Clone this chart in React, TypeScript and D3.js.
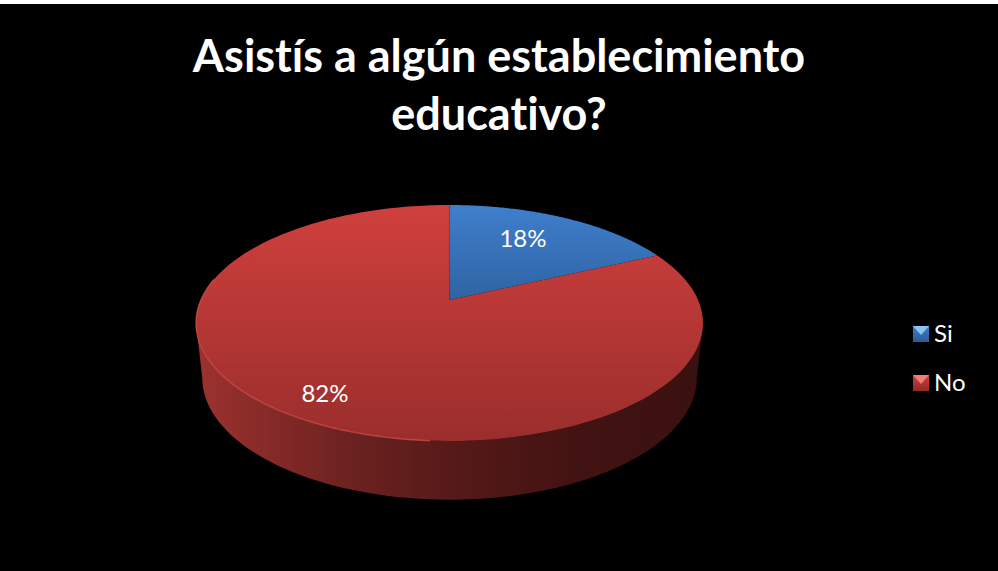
import React from "react";
import * as d3 from "d3";

const categories: string[] = ["Si", "No"];
const values: number[] = [18, 82];
const valueLabels: string[] = ["18%", "82%"];
const titleLines: string[] = ["Asistís a algún establecimiento", "educativo?"];

const width = 998;
const height = 571;
const font = "Lato, 'Open Sans', sans-serif";

// perspective of the pie: k shifts the apex above the middle of the ellipse
const k = -0.195;
const topDisc = { cx: 449.5, cy: 300, rx: 248.6, ry: 113.5 };
const baseDisc = { cx: 449.5, cy: 354, rx: 242.5, ry: 117.3 };

type Disc = typeof topDisc;

const project = (disc: Disc, angle: number): [number, number] => {
  const ux = Math.sin(angle);
  const uy = -Math.cos(angle);
  const w = 1 + k * uy;
  return [disc.cx + (disc.rx * ux) / w, disc.cy + (disc.ry * uy) / w];
};

const line = d3.line<[number, number]>();

const rimPoints = (disc: Disc, a0: number, a1: number): [number, number][] =>
  d3.range(0, 121).map((i) => project(disc, a0 + ((a1 - a0) * i) / 120));

const slicePath = (a0: number, a1: number): string =>
  line([[topDisc.cx, topDisc.cy], ...rimPoints(topDisc, a0, a1)]) + "Z";

// the wall runs between the widest points of the discs, round the front
const wallStart = Math.PI * 0.563;
const wallEnd = Math.PI * 1.437;
const wallPath: string =
  line([...rimPoints(topDisc, wallStart, wallEnd), ...rimPoints(baseDisc, wallStart, wallEnd).reverse()]) + "Z";

const App = (): React.JSX.Element => {
  const arcs = d3.pie<number>().sort(null)(values);
  const labelPos: [number, number][] = [
    [523, 239],
    [325, 394],
  ];
  const legendY = d3.scalePoint<string>().domain(categories).range([334, 383]);
  const sliceFill = ["url(#blueTop)", "url(#redTop)"];
  const legendFill = ["url(#blueKey)", "url(#redKey)"];
  const legendTip = ["#8cc4f4", "#f47c78"];

  return (
    <svg
      width={width}
      height={height}
      style={{ position: "fixed", left: 0, top: 0, display: "block", background: "#fff" }}
    >
      <defs>
        <linearGradient id="redTop" gradientUnits="userSpaceOnUse" x1="0" y1="205" x2="0" y2="441">
          <stop offset="0" stopColor="#cf403d" />
          <stop offset="1" stopColor="#9a2e2c" />
        </linearGradient>
        <linearGradient id="blueTop" gradientUnits="userSpaceOnUse" x1="0" y1="205" x2="0" y2="300">
          <stop offset="0" stopColor="#3f7fcd" />
          <stop offset="1" stopColor="#2f63a3" />
        </linearGradient>
        <linearGradient id="wall" gradientUnits="userSpaceOnUse" x1="197" y1="0" x2="702" y2="0">
          <stop offset="0" stopColor="#9c3230" />
          <stop offset="0.12" stopColor="#8a2b29" />
          <stop offset="0.3" stopColor="#6c2220" />
          <stop offset="0.5" stopColor="#561a18" />
          <stop offset="0.75" stopColor="#421312" />
          <stop offset="1" stopColor="#3a1110" />
        </linearGradient>
        <linearGradient id="blueKey" x1="0" y1="0" x2="0" y2="1">
          <stop offset="0" stopColor="#3f7fcd" />
          <stop offset="1" stopColor="#2a5a96" />
        </linearGradient>
        <linearGradient id="redKey" x1="0" y1="0" x2="0" y2="1">
          <stop offset="0" stopColor="#cf403d" />
          <stop offset="1" stopColor="#8e2b29" />
        </linearGradient>
        <filter id="soft" x="-5%" y="-5%" width="110%" height="110%">
          <feGaussianBlur stdDeviation="0.7" />
        </filter>
      </defs>
      <rect x={0} y={4} width={width} height={height - 4} fill="#000" />

      <g
        fontFamily={font}
        fontWeight={700}
        fontSize={45}
        fill="#fff"
        textAnchor="middle"
        style={{ fontVariantLigatures: "none" }}
      >
        {titleLines.map((t, i) => (
          <text key={t} x={499} y={72 + i * 58}>
            {t}
          </text>
        ))}
      </g>

      <path d={wallPath} fill="url(#wall)" />
      {arcs.map((a, i) => (
        <path key={categories[i]} d={slicePath(a.startAngle, a.endAngle)} fill={sliceFill[i]} />
      ))}
      {/* light bevel along the left and front of the top edge */}
      <path
        d={line(rimPoints(topDisc, Math.PI * 1.02, Math.PI * 1.56)) as string}
        fill="none"
        stroke="#d9534f"
        strokeOpacity={0.7}
        strokeWidth={1.4}
        filter="url(#soft)"
      />

      <g fontFamily={font} fontSize={24} fill="#fff" textAnchor="middle">
        {valueLabels.map((t, i) => (
          <text key={t} x={labelPos[i][0]} y={labelPos[i][1] + 8}>
            {t}
          </text>
        ))}
      </g>

      {categories.map((c, i) => {
        const y = legendY(c) as number;
        return (
          <g key={c}>
            <rect x={913} y={y - 8} width={16} height={16} fill={legendFill[i]} />
            <path d={`M913,${y - 8}h16l-8,9Z`} fill={legendTip[i]} />
            <text x={934} y={y + 8} fontFamily={font} fontSize={24} fill="#fff">
              {c}
            </text>
          </g>
        );
      })}
    </svg>
  );
};

export default App;
